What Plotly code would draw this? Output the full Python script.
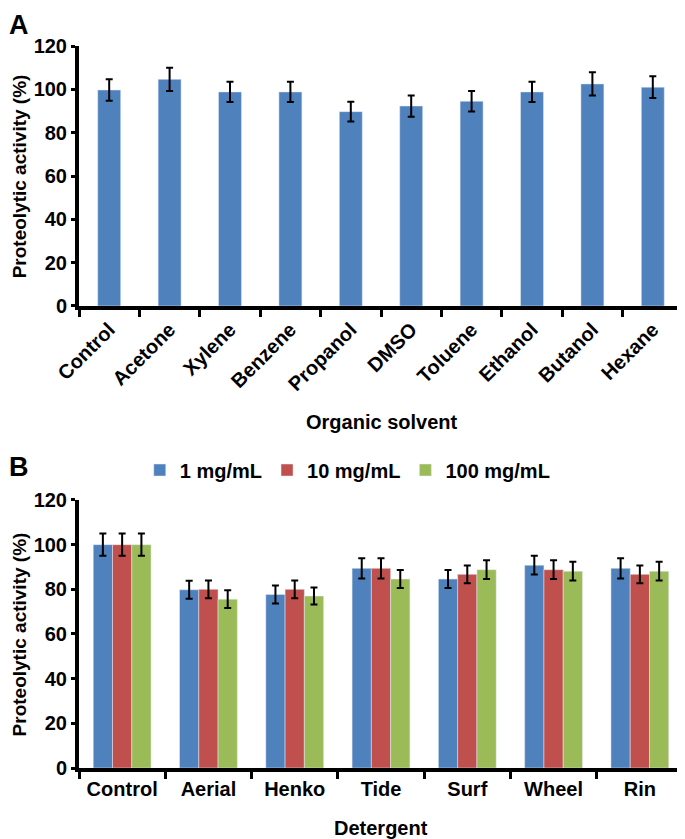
import plotly.graph_objects as go

# panel A - organic solvents
solvents = ["Control", "Acetone", "Xylene", "Benzene", "Propanol", "DMSO",
            "Toluene", "Ethanol", "Butanol", "Hexane"]
solvent_activity = [99.7, 104.6, 98.8, 98.8, 89.7, 92.3, 94.5, 98.8, 102.5, 101.0]
solvent_err = [5.0, 5.4, 4.7, 4.7, 4.6, 4.9, 4.7, 4.7, 5.4, 5.0]

# panel B - detergents, three concentrations
detergents = ["Control", "Aerial", "Henko", "Tide", "Surf", "Wheel", "Rin"]
conc_names = ["1 mg/mL", "10 mg/mL", "100 mg/mL"]
det_1 = [100.0, 79.8, 77.7, 89.4, 84.6, 90.8, 89.4]
det_10 = [100.0, 80.0, 80.0, 89.4, 86.7, 88.8, 86.7]
det_100 = [100.0, 75.6, 77.0, 84.6, 88.8, 88.1, 88.1]
det_err_1 = [5.0, 4.0, 4.0, 4.5, 4.0, 4.2, 4.5]
det_err_10 = [5.0, 4.0, 4.0, 4.5, 4.0, 4.2, 4.0]
det_err_100 = [5.0, 4.0, 3.8, 4.0, 4.2, 4.2, 4.2]

y_ticks = [0, 20, 40, 60, 80, 100, 120]

blue = "#4F81BD"
red = "#C0504D"
green = "#9BBB59"
FONT = "Liberation Sans"

fig = go.Figure()

fig.add_trace(go.Bar(
    x=solvents, y=solvent_activity, marker_color=blue, showlegend=False,
    error_y=dict(type="data", array=solvent_err, color="black", thickness=2, width=3.5),
    xaxis="x", yaxis="y",
))

for name, vals, errs, col in zip(conc_names, [det_1, det_10, det_100],
                                 [det_err_1, det_err_10, det_err_100],
                                 [blue, red, green]):
    fig.add_trace(go.Bar(
        x=detergents, y=vals, name=name, marker_color=col,
        error_y=dict(type="data", array=errs, color="black", thickness=2, width=3.5),
        xaxis="x2", yaxis="y2",
    ))

tickfont = dict(family=FONT, size=20, color="black", weight="bold")

axis_common = dict(showline=True, linecolor="black", linewidth=4,
                   ticks="outside", tickcolor="black", tickwidth=3,
                   showgrid=False, zeroline=False, tickfont=tickfont)

def label(text, x, y, size, anchor="center", yanchor="middle", angle=0):
    return dict(text=text, xref="paper", yref="paper", x=x, y=y,
                xanchor=anchor, yanchor=yanchor, showarrow=False, textangle=angle,
                font=dict(family=FONT, size=size, color="black", weight="bold"))

# page has an 8px body margin, so the figure is 8px smaller than the window
fig.update_layout(
    width=677, height=831,
    margin=dict(l=71, r=2, t=38, b=71),
    paper_bgcolor="white", plot_bgcolor="white",
    barmode="group", bargap=0.33, bargroupgap=0,
    font=dict(family=FONT, color="black"),
    xaxis=dict(domain=[0, 1], anchor="y", tickangle=-45, tickson="boundaries",
               ticklen=7, **axis_common),
    yaxis=dict(domain=[0.6399, 1], anchor="x", range=[0, 120], tickvals=y_ticks,
               ticklen=4, **axis_common),
    xaxis2=dict(domain=[0, 1], anchor="y2", tickson="boundaries", ticklen=7,
                **axis_common),
    yaxis2=dict(domain=[0, 0.3712], anchor="x2", range=[0, 120], tickvals=y_ticks,
                ticklen=4, **axis_common),
    legend=dict(orientation="h", x=0.445, xanchor="center", y=0.4127, yanchor="middle",
                font=dict(family=FONT, size=20, color="black", weight="bold"),
                itemwidth=30, bgcolor="rgba(0,0,0,0)"),
    annotations=[
        label("A", -0.12, 1.0526, 27, "left", "top"),
        label("B", -0.12, 0.4169, 27, "left"),
        label("Proteolytic activity (%)", -0.097, 0.82, 19, angle=-90),
        label("Proteolytic activity (%)", -0.097, 0.1856, 19, angle=-90),
        label("Organic solvent", 0.5, (768 - 422) / 722, 20),
        label("Detergent", 0.5, (768 - 828) / 722, 20),
    ],
)
fig.update_traces(selector=dict(xaxis="x"), width=0.38)

fig.write_html("out.html")
